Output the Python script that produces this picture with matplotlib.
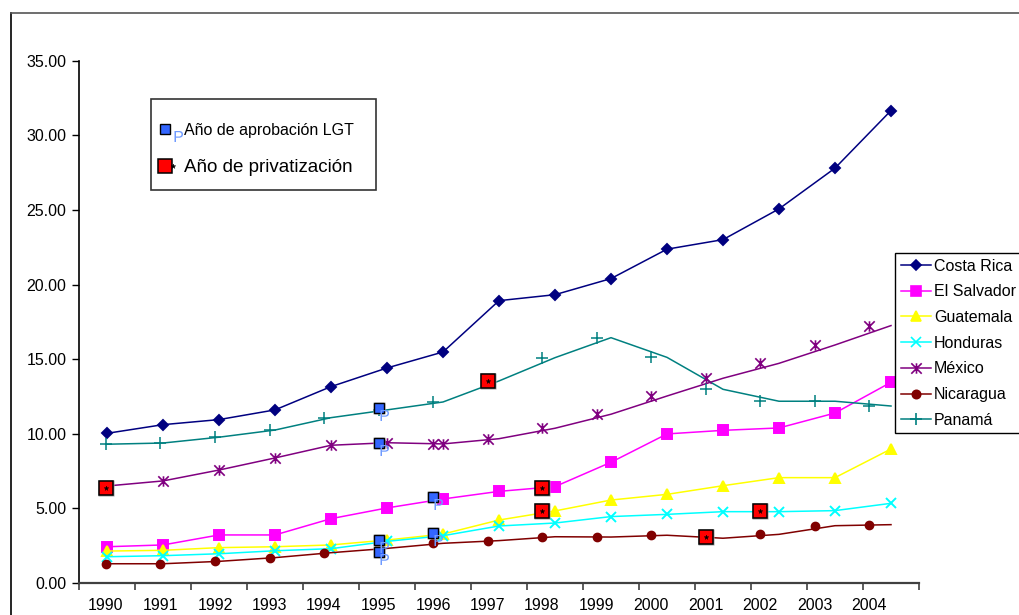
import numpy as np
import matplotlib
matplotlib.use("Agg")
import matplotlib.pyplot as plt
from matplotlib.lines import Line2D
from matplotlib.patches import Rectangle
from matplotlib.path import Path
from matplotlib.textpath import TextPath
from matplotlib.font_manager import FontProperties
from matplotlib.legend_handler import HandlerTuple

plt.rcParams['font.family'] = ['Liberation Sans', 'DejaVu Sans']

# ---- data -------------------------------------------------------------
years = list(range(1990, 2005))
year_labels = [str(y) for y in years]

costa_rica = [10.03, 10.61, 10.95, 11.60, 13.16, 14.41, 15.48, 18.92, 19.32, 20.40, 22.37, 23.01, 25.07, 27.80, 31.66]
el_salvador = [2.43, 2.55, 3.22, 3.22, 4.31, 5.03, 5.63, 6.14, 6.46, 8.09, 9.99, 10.23, 10.39, 11.39, 13.45]
guatemala = [2.14, 2.19, 2.37, 2.43, 2.55, 2.88, 3.28, 4.22, 4.83, 5.56, 5.94, 6.52, 7.06, 7.06, 8.98]
honduras = [1.76, 1.83, 1.96, 2.16, 2.30, 2.79, 3.17, 3.82, 4.02, 4.45, 4.60, 4.78, 4.78, 4.85, 5.34]
mexico = [6.50, 6.84, 7.57, 8.38, 9.23, 9.40, 9.32, 9.67, 10.37, 11.31, 12.53, 13.72, 14.72, 15.95, 17.25]
nicaragua = [1.29, 1.29, 1.45, 1.70, 2.03, 2.32, 2.66, 2.84, 3.10, 3.08, 3.20, 3.00, 3.26, 3.84, 3.91]
panama = [9.30, 9.38, 9.77, 10.25, 11.08, 11.60, 12.13, 13.54, 15.10, 16.44, 15.12, 12.98, 12.18, 12.18, 11.86]

# year of approval of the telecom law (LGT) and year of privatisation
lgt_years = [1995, 1995, 1995, 1995, 1996, 1996]
lgt_values = [11.70, 9.40, 2.88, 2.08, 5.78, 3.33]
priv_years = [1990, 1997, 1998, 1998, 2001, 2002]
priv_values = [6.35, 13.54, 6.39, 4.83, 3.08, 4.83]

# ---- marker shapes ----------------------------------------------------
asterisk = Path([(-1, -1), (1, 1), (-1, 1), (1, -1), (0, -1), (0, 1)],
                [Path.MOVETO, Path.LINETO] * 3)

# letter "P" hanging below-right of its anchor point (units: pixels)
_tp = TextPath((0, 0), "P", size=1, prop=FontProperties(family="Liberation Sans"))
_ext = _tp.get_extents()
_scale = 11.0 / _ext.height
_v = (np.asarray(_tp.vertices) - [_ext.x0, _ext.y1]) * _scale + [1.0, -1.5]
p_marker = Path(_v, _tp.codes)
p_ms = 2 * np.max(np.abs(_v)) / (100 / 72)

series = [
    ("Costa Rica", costa_rica, "#000080", "D", 5.5, "#000080"),
    ("El Salvador", el_salvador, "#ff00ff", "s", 6.5, "#ff00ff"),
    ("Guatemala", guatemala, "#ffff00", "^", 7.5, "#ffff00"),
    ("Honduras", honduras, "#00ffff", "x", 7.5, "none"),
    ("México", mexico, "#800080", asterisk, 7.5, "none"),
    ("Nicaragua", nicaragua, "#800000", "o", 6.0, "#800000"),
    ("Panamá", panama, "#008080", "+", 9.0, "none"),
]

# ---- figure -----------------------------------------------------------
W, H = 1019, 615
fig = plt.figure(figsize=(W / 100, H / 100), dpi=100)
ax = fig.add_axes([79 / W, 32 / H, 840 / W, 522.3 / H])
ax.set_xlim(-0.5, 14.5)
ax.set_ylim(0, 35)

idx = np.arange(len(years))
for name, vals, col, mk, ms, mfc in series:
    if name in ("Costa Rica", "El Salvador", "Guatemala", "Honduras"):
        ax.plot(idx, vals, color=col, lw=1.1, marker=mk, ms=ms,
                mfc=mfc, mec=col, mew=1.4, zorder=3)
    elif name == "México":
        ax.plot(idx, vals, color=col, lw=1.1, zorder=3)
        ax.plot(idx[:7], vals[:7], ls="none", marker=mk, ms=ms,
                mfc="none", mec=col, mew=1.2, zorder=3)
    else:
        ax.plot(idx, vals, color=col, lw=1.1, zorder=3)

# category axis: ticks between categories, no labels
ax.set_xticks(np.arange(-0.5, 15, 1))
ax.set_xticklabels([])
ax.tick_params(axis="x", direction="out", length=5, width=1.2, color="#404040")
ax.set_yticks(np.arange(0, 36, 5))
ax.set_yticklabels([f"{v:.2f}" for v in np.arange(0, 36, 5)], fontsize=11.5)
ax.tick_params(axis="y", direction="out", length=5, width=1, pad=4)
for s in ("top", "right"):
    ax.spines[s].set_visible(False)
ax.spines["left"].set_color("black")
ax.spines["left"].set_linewidth(1.2)
ax.spines["bottom"].set_color("#404040")
ax.spines["bottom"].set_linewidth(1.6)

# year scale used by the labels and the overlaid markers
ax2 = ax.twiny()
ax2.set_xlim(1989.505, 2004.916)
ax2.set_ylim(0, 35)
for s in ax2.spines.values():
    s.set_visible(False)
ax2.xaxis.set_ticks_position("bottom")
ax2.set_xticks(years)
ax2.set_xticklabels(year_labels, fontsize=11.5)
ax2.tick_params(axis="x", length=0, pad=11)

cols = {n: c for n, _, c, *_ in series}
ax2.plot(years, panama, ls="none", marker="+", ms=9, mec=cols["Panamá"], mew=1.1)
ax2.plot(years, nicaragua, ls="none", marker="o", ms=6, mfc=cols["Nicaragua"],
         mec=cols["Nicaragua"])
ax2.plot(years[6:], mexico[6:], ls="none", marker=asterisk, ms=7.5,
         mfc="none", mec=cols["México"], mew=1.2)

# LGT approval markers
ax2.plot(lgt_years, lgt_values, ls="none", marker="s", ms=8.5, mfc="#b0b0b0",
         mec="none", zorder=5)
ax2.plot(lgt_years, lgt_values, ls="none", marker="s", ms=6.8, mfc="#3366ff",
         mec="black", mew=1.0, zorder=6)
ax2.plot(lgt_years, lgt_values, ls="none", marker=p_marker, ms=p_ms,
         mfc="#6f9bff", mec="none", mew=0, zorder=7)

# privatisation markers
ax2.plot(priv_years, priv_values, ls="none", marker="s", ms=12, mfc="#a0a0a0",
         mec="none", zorder=5)
ax2.plot(priv_years, priv_values, ls="none", marker="s", ms=10, mfc="#ff0000",
         mec="black", mew=1.1, zorder=6)
ax2.plot(priv_years, priv_values, ls="none", marker="*", ms=3.5, mfc="black",
         mec="black", mew=0.3, zorder=7)

# ---- legends ----------------------------------------------------------
country_handles = [Line2D([], [], color=c, lw=1.1, marker=mk, ms=ms,
                          mfc=(c if mfc != "none" else "none"), mec=c, mew=1.2)
                   for _, _, c, mk, ms, mfc in series]
leg1 = fig.legend(country_handles, [s[0] for s in series], loc="upper left",
                  bbox_to_anchor=(895 / W, 1 - 253 / H), fontsize=11.5,
                  frameon=True, fancybox=False, framealpha=1, edgecolor="black",
                  handlelength=1.9, handletextpad=0.2, labelspacing=0.67,
                  borderpad=0.35, borderaxespad=0)
leg1.get_frame().set_linewidth(1.0)

# key for the overlaid markers: framed box with a frameless legend inside
fig.add_artist(Rectangle((151 / W, 1 - 190 / H), 225 / W, 91 / H,
                         transform=fig.transFigure, facecolor="white",
                         edgecolor="#333333", lw=1.2, zorder=4))
h_lgt = (Line2D([], [], ls="none", marker="s", ms=6.8, mfc="#3366ff", mec="black", mew=1.0),
         Line2D([], [], ls="none", marker=p_marker, ms=p_ms, mfc="#6f9bff", mec="none", mew=0))
h_priv = (Line2D([], [], ls="none", marker="s", ms=10, mfc="#ff0000", mec="black", mew=1.1),
          Line2D([], [], ls="none", marker="*", ms=3.5, mfc="black", mec="black", mew=0.3))
leg2 = fig.legend([h_lgt, h_priv], ["Año de aprobación LGT", "Año de privatización"],
                  handler_map={tuple: HandlerTuple(ndivide=None, pad=0)},
                  loc="upper left", bbox_to_anchor=(161 / W, 1 - 123 / H),
                  fontsize=11.5, frameon=False, handlelength=1.0,
                  handletextpad=0.45, labelspacing=1.3, borderpad=0,
                  borderaxespad=0)
leg2.set_zorder(5)
leg2.get_texts()[1].set_fontsize(13.5)

# outer frame edges
fig.add_artist(Line2D([11 / W, 11 / W], [0, 1 - 13 / H], color="black", lw=1.2))
fig.add_artist(Line2D([11 / W, 1], [1 - 13 / H, 1 - 13 / H], color="#555555", lw=1.2))

fig.savefig("out.png", dpi=100)
